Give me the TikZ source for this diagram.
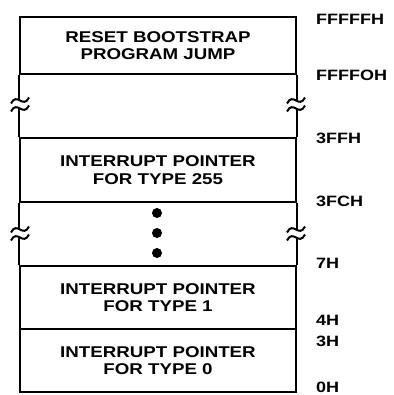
\documentclass[tikz,border=0pt]{standalone}
\usepackage{fontspec}
\newfontfamily\mapfont{Liberation Sans}[FakeStretch=1.2]
\begin{document}
\begin{tikzpicture}[
	x=1pt, y=-1pt,
	memrow/.style={draw=ink, line width=2pt, minimum width=276pt, inner sep=0pt,
		align=center, font=\mapfont\bfseries\fontsize{15.6}{17.3}\selectfont},
	addr/.style={anchor=west, inner sep=0pt, text=ink,
		font=\mapfont\bfseries\fontsize{15}{17}\selectfont},
	edge/.style={draw=ink, line width=2.2pt},
	cut/.pic={
		\fill[white] (-4,0) rectangle (4,8);
		\draw[ink, line width=2pt] (-9,3) .. controls (-3,-9) and (3,9) .. (9,-3);
		\draw[ink, line width=2pt] (-9,11) .. controls (-3,-1) and (3,17) .. (9,5);
	}
	]
	\definecolor{ink}{RGB}{0, 0, 0}
	\useasboundingbox (0,0) rectangle (393,395);

	% boxes
	\node [memrow, minimum height=57pt] (reset) at (158,45.5) {RESET BOOTSTRAP\\PROGRAM JUMP};
	\node [memrow, minimum height=64pt] (ptr255) at (158,170) {INTERRUPT POINTER\\FOR TYPE 255};
	\node [memrow, minimum height=63pt] (ptr1) at (158,297.5) {INTERRUPT POINTER\\FOR TYPE 1};
	\node [memrow, minimum height=63pt] (ptr0) at (158,360.5) {INTERRUPT POINTER\\FOR TYPE 0};

	% side walls with breaks
	\draw [edge] (reset.south west) -- (ptr255.north west);
	\draw [edge] (reset.south east) -- (ptr255.north east);
	\draw [edge] (ptr255.south west) -- (ptr1.north west);
	\draw [edge] (ptr255.south east) -- (ptr1.north east);
	\pic at (20,100.5) {cut};
	\pic at (296,100.5) {cut};
	\pic at (20,229.5) {cut};
	\pic at (296,229.5) {cut};

	% dots
	\foreach \y in {213,233,253}
		\fill [ink] (157,\y) circle (5pt);

	% addresses
	\node [addr] (aFFFFF) at (316,19) {FFFFFH};
	\node [addr] (aFFFF0) at (316,75) {FFFFOH};
	\node [addr] (a3FF) at (316,138) {3FFH};
	\node [addr] (a3FC) at (316,201.5) {3FCH};
	\node [addr] (a7) at (316,263.5) {7H};
	\node [addr] (a4) at (316,320.5) {4H};
	\node [addr] (a3) at (316,341) {3H};
	\node [addr] (a0) at (316,387.5) {0H};
\end{tikzpicture}
\end{document}
